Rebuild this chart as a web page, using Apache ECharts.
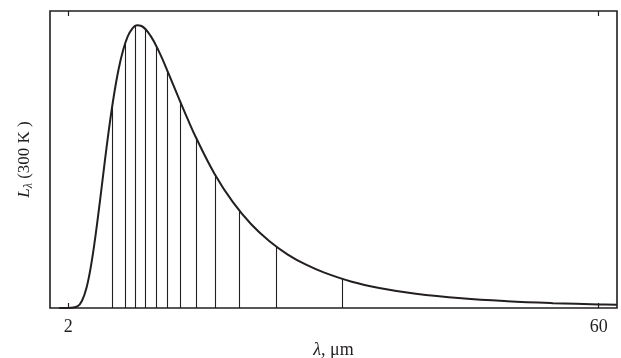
<!DOCTYPE html>
<html>
<head>
<meta charset="utf-8">
<script src="https://cdn.jsdelivr.net/npm/echarts@6/dist/echarts.min.js"></script>
<style>
  html, body { margin: 0; padding: 0; background: #fff; }
  #main { width: 621px; height: 358px; }
</style>
</head>
<body>
<div id="main"></div>
<script>
// wavelength (um) and relative spectral radiance (peak = 1)
var lambda = [1, 2, 3, 3.5, 4, 4.5, 5, 5.5, 6, 6.5, 7, 7.5, 8, 8.5, 9, 9.5, 10,
  11, 12, 13, 14, 15, 16, 18, 20, 22, 24, 26, 28, 30, 33, 36, 40, 45, 50, 55, 60, 62];
var radiance = [0, 0, 0.0056, 0.0255, 0.0725, 0.1525, 0.2615, 0.388, 0.52, 0.645, 0.754, 0.844, 0.912, 0.96, 0.988, 0.9995, 0.997,
  0.962, 0.901, 0.826, 0.748, 0.672, 0.6, 0.474, 0.374, 0.296, 0.236, 0.189, 0.153, 0.125, 0.093, 0.071, 0.0504, 0.0341, 0.0238, 0.0171, 0.0126, 0.0112];

// vertical division lines under the curve
var divLambda = [6.8, 8.22, 9.36, 10.4, 11.6, 12.85, 14.19, 15.94, 18.05, 20.74, 24.7, 32.0];
var divHeight = [0.713, 0.935, 0.998, 0.987, 0.927, 0.838, 0.733, 0.604, 0.471, 0.343, 0.218, 0.103];

var tickValues = [2, 60];

var chartDom = document.getElementById('main');
var myChart = echarts.init(chartDom, null, { renderer: 'canvas' });

var curve = lambda.map(function (l, i) { return [l, radiance[i]]; });
var divLines = divLambda.map(function (l, i) {
  return [{ coord: [l, 0] }, { coord: [l, divHeight[i]] }];
});

var serif = '"Liberation Serif", "DejaVu Serif", serif';
var ink = '#231f20';

var option = {
  backgroundColor: '#fff',
  animation: false,
  grid: {
    left: 50, right: 4, top: 11, bottom: 50,
    outerBoundsMode: 'none',
    show: true,
    borderColor: ink,
    borderWidth: 1.6,
    backgroundColor: 'transparent'
  },
  xAxis: [
    {
      type: 'value',
      min: 0,
      max: 62,
      position: 'bottom',
      axisLine: { show: false },
      splitLine: { show: false },
      axisTick: { show: true, inside: true, length: 5, customValues: tickValues, lineStyle: { color: ink, width: 1.2 } },
      axisLabel: { customValues: tickValues, color: ink, fontFamily: serif, fontSize: 18, margin: 10 },
      name: '{i|λ}, μm',
      nameLocation: 'middle',
      nameGap: 33,
      nameTextStyle: {
        color: ink, fontFamily: serif, fontSize: 18,
        rich: { i: { fontStyle: 'italic', fontFamily: serif, fontSize: 18, color: ink } }
      }
    },
    {
      type: 'value',
      min: 0,
      max: 62,
      position: 'top',
      axisLine: { show: false },
      splitLine: { show: false },
      axisTick: { show: true, inside: true, length: 5, customValues: tickValues, lineStyle: { color: ink, width: 1.2 } },
      axisLabel: { show: false }
    }
  ],
  yAxis: {
    type: 'value',
    min: 0,
    max: 1.05,
    axisLine: { show: false },
    axisTick: { show: false },
    axisLabel: { show: false },
    splitLine: { show: false },
    name: '{i|L}{s|λ} (300 K )',
    nameLocation: 'middle',
    nameRotate: 90,
    nameGap: 15,
    nameTextStyle: {
      color: ink, fontFamily: serif, fontSize: 17,
      rich: {
        i: { fontStyle: 'italic', fontFamily: serif, fontSize: 17, color: ink },
        s: { fontStyle: 'italic', fontFamily: serif, fontSize: 12, color: ink, verticalAlign: 'bottom', padding: [8, 0, 0, 0] }
      }
    }
  },
  series: [
    {
      type: 'line',
      data: curve,
      smooth: 0.4,
      showSymbol: false,
      lineStyle: { color: ink, width: 2 },
      markLine: {
        silent: true,
        symbol: ['none', 'none'],
        label: { show: false },
        lineStyle: { color: ink, width: 1.1, type: 'solid' },
        data: divLines
      }
    }
  ]
};

option && myChart.setOption(option);
</script>
</body>
</html>
